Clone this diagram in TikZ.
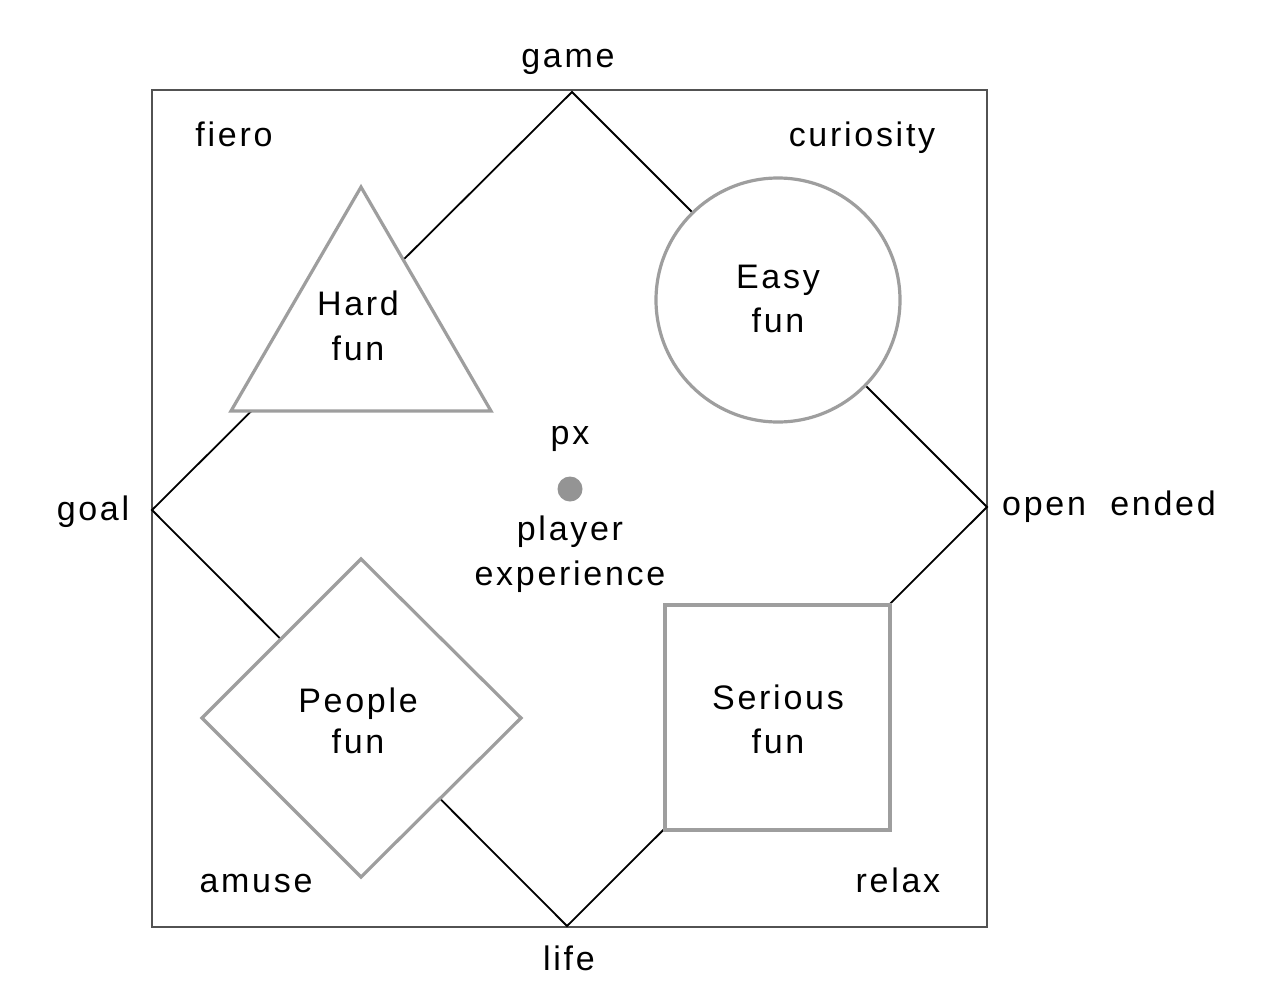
\documentclass[tikz,border=0pt]{standalone}
\usepackage{fontspec}
\setmainfont[LetterSpace=8]{Liberation Sans}
\begin{document}
\begin{tikzpicture}[x=1pt,y=-1pt,
  lbl/.style={anchor=base,inner sep=0pt,font=\fontsize{34}{44}\selectfont},
  frameline/.style={draw=black!68,line width=2.8pt},
  pathline/.style={draw=black,line width=1.8pt},
  funshape/.style={draw=black!38,line width=3.2pt,fill=white}]
\useasboundingbox (0,0) rectangle (1280,1004);
% outer frame
\draw[frameline] (152,90) rectangle (987,927);
% diamond vertices
\coordinate (top) at (572,92);
\coordinate (right) at (987,507);
\coordinate (bottom) at (567,926);
\coordinate (left) at (152,510);
\draw[pathline] (top) -- (right) -- (bottom) -- (left) -- cycle;
% shapes
\draw[funshape] (361,187) -- (491,411) -- (231,411) -- cycle;
\draw[funshape] (778,300) circle (122);
\draw[funshape] (361,559) -- (521,718) -- (361,877) -- (202,718) -- cycle;
\draw[funshape] (665,605) rectangle (890,830);
% centre dot
\fill[black!42] (570,489) circle (12.5);
% labels
\node[lbl] (game) at (568,67) {game};
\node[lbl] (fiero) at (234,146) {fiero};
\node[lbl] (curiosity) at (862,146) {curiosity};
\node[lbl] (goal) at (93,520) {goal};
\node[lbl] (open) at (1109,515) {open\ \ ended};
\node[lbl] (amuse) at (256,892) {amuse};
\node[lbl] (relax) at (898,892) {relax};
\node[lbl] (life) at (569,970) {life};
\node[lbl] (px) at (570,444) {px};
\node[lbl] (player) at (570,540) {player};
\node[lbl] (experience) at (570,585) {experience};
\node[lbl] (hard) at (358,315) {Hard};
\node[lbl] (hardfun) at (358,360) {fun};
\node[lbl] (easy) at (778,288) {Easy};
\node[lbl] (easyfun) at (778,332) {fun};
\node[lbl] (people) at (358,712) {People};
\node[lbl] (peoplefun) at (358,753) {fun};
\node[lbl] (serious) at (778,709) {Serious};
\node[lbl] (seriousfun) at (778,753) {fun};
\end{tikzpicture}
\end{document}
